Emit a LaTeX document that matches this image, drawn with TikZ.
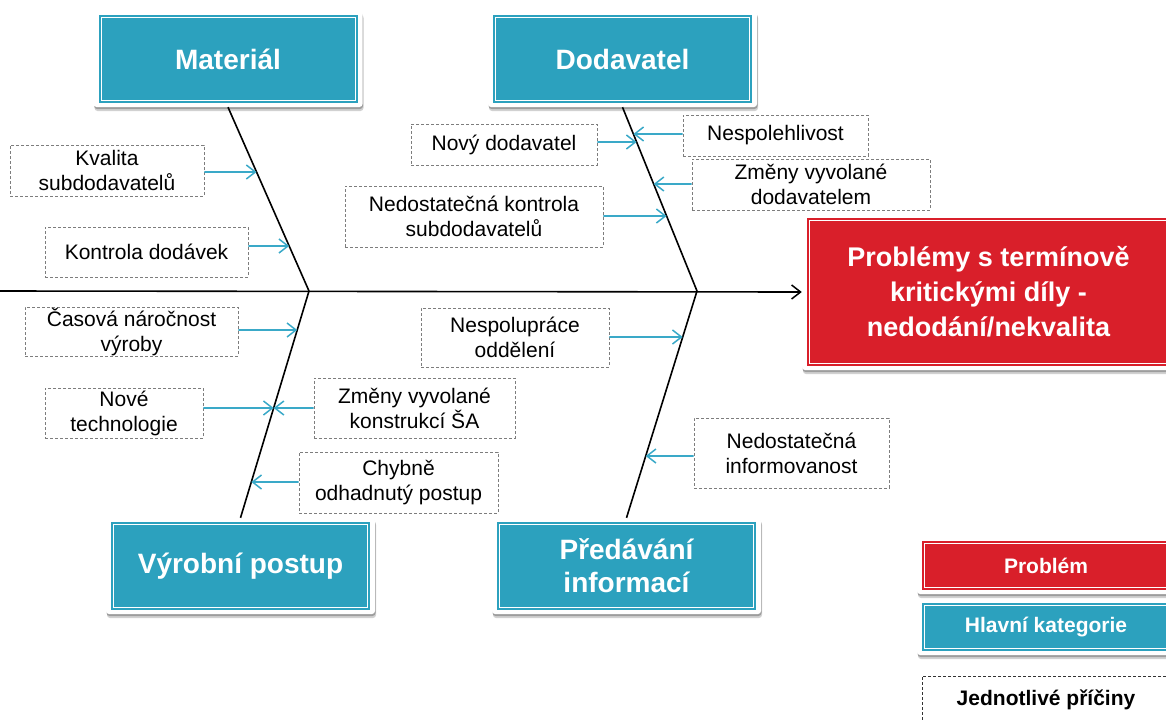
\documentclass[tikz,border=0pt]{standalone}
\usepackage{fontspec}
\setmainfont{Liberation Sans}
\usetikzlibrary{arrows.meta,shadows,intersections,calc}

\definecolor{catTeal}{RGB}{44,161,190}
\definecolor{arrowTeal}{RGB}{58,169,200}
\definecolor{probRed}{RGB}{217,31,42}
\definecolor{dashGray}{RGB}{125,125,125}

\tikzset{
  % white frame with shadow, coloured panel and a thin white inner line
  framed/.style={
    fill=white, rounded corners=3pt, inner sep=0pt, text=white, align=center,
    drop shadow={shadow xshift=1pt, shadow yshift=-4pt, opacity=0.18, fill=black},
    drop shadow={shadow xshift=0.5pt, shadow yshift=-2pt, opacity=0.25, fill=black},
    path picture={
      \fill[#1, sharp corners]
        ([shift={(5pt,4pt)}]path picture bounding box.south west) rectangle
        ([shift={(-5pt,-4pt)}]path picture bounding box.north east);
      \draw[white, line width=0.8pt, sharp corners]
        ([shift={(7.5pt,6.5pt)}]path picture bounding box.south west) rectangle
        ([shift={(-7.5pt,-6.5pt)}]path picture bounding box.north east);
    }},
  catbox/.style={framed=catTeal, minimum width=269pt, minimum height=96pt,
    font=\bfseries\fontsize{28}{33}\selectfont},
  probbox/.style={framed=probRed, minimum width=373pt, minimum height=156pt,
    font=\bfseries\fontsize{27}{35}\selectfont},
  legbox/.style={framed=#1, minimum width=258pt, minimum height=56pt,
    font=\bfseries\fontsize{21}{25}\selectfont},
  causebox/.style={draw=dashGray, dash pattern=on 3pt off 2pt, line width=0.8pt,
    inner sep=0pt, align=center, font=\fontsize{21}{25}\selectfont},
  bone/.style={line width=1.6pt, black},
  spine/.style={line width=1.6pt, black, -{Straight Barb[length=9pt,width=14pt,line width=1.5pt]}},
  causearrow/.style={line width=1.6pt, arrowTeal, -{Straight Barb[length=9pt,width=14pt,line width=1.5pt]}},
}

% horizontal cause arrow from box side #1 at height #2 to bone path #3
\newcommand{\causeto}[3]{%
  \path[name path=hl] (-10,#2) -- (1200,#2);
  \path[name intersections={of=#3 and hl, by=tp}];
  \draw[causearrow] (#1 |- 0,#2) -- (tp);
}

\begin{document}
\begin{tikzpicture}[x=1pt, y=-1pt]
  \useasboundingbox (0,0) rectangle (1166,720);
  \clip (0,0) rectangle (1166,720);

  % main categories
  \node[catbox] (mat) at (228,59)    {Materiál};
  \node[catbox] (dod) at (622.5,59)  {Dodavatel};
  \node[catbox] (vyr) at (240.5,566) {Výrobní postup};
  \node[catbox] (pre) at (626.5,566) {Předávání\\informací};

  % problem
  \node[probbox] (prob) at (988.5,292) {Problémy s termínově\\kritickými díly -\\nedodání/nekvalita};

  % spine and bones
  \coordinate (tail) at (0,291);
  \coordinate (j1) at (309,291);
  \coordinate (j2) at (697,291);
  \draw[spine] (tail) -- (prob.west);
  \draw[bone, name path=boneM] (mat.south) -- (j1);
  \draw[bone, name path=boneV] (j1) -- (vyr.north);
  \draw[bone, name path=boneD] (dod.south) -- (j2);
  \draw[bone, name path=boneP] (j2) -- (pre.north);

  % individual causes
  \node[causebox, minimum width=194pt, minimum height=51pt] (kval)   at (107,170.5)   {Kvalita\\subdodavatelů};
  \node[causebox, minimum width=203pt, minimum height=50pt] (kontr)  at (146.5,252)   {Kontrola dodávek};
  \node[causebox, minimum width=213pt, minimum height=49pt] (cas)    at (131.5,331.5) {Časová náročnost\\výroby};
  \node[causebox, minimum width=158pt, minimum height=50pt] (nove)   at (124,413)     {Nové\\technologie};
  \node[causebox, minimum width=201pt, minimum height=60pt] (zmSA)   at (414.5,408)   {Změny vyvolané\\konstrukcí ŠA};
  \node[causebox, minimum width=199pt, minimum height=61pt] (chyb)   at (398.5,482.5) {Chybně\\odhadnutý postup};
  \node[causebox, minimum width=186pt, minimum height=41pt] (novy)   at (504,144.5)   {Nový dodavatel};
  \node[causebox, minimum width=185pt, minimum height=41pt] (nespol) at (775.5,135.5) {Nespolehlivost};
  \node[causebox, minimum width=238pt, minimum height=51pt] (zmDod)  at (811,184.5)   {Změny vyvolané\\dodavatelem};
  \node[causebox, minimum width=258pt, minimum height=61pt] (nedKon) at (474,216.5)   {Nedostatečná kontrola\\subdodavatelů};
  \node[causebox, minimum width=188pt, minimum height=59pt] (nespo)  at (515,337.5)   {Nespolupráce\\oddělení};
  \node[causebox, minimum width=195pt, minimum height=70pt] (nedInf) at (791.5,453)   {Nedostatečná\\informovanost};

  % cause arrows
  \causeto{kval.east}{172}{boneM}
  \causeto{kontr.east}{246}{boneM}
  \causeto{cas.east}{330}{boneV}
  \causeto{nove.east}{408}{boneV}
  \causeto{zmSA.west}{408}{boneV}
  \causeto{chyb.west}{482}{boneV}
  \causeto{novy.east}{142}{boneD}
  \causeto{nespol.west}{134}{boneD}
  \causeto{zmDod.west}{184}{boneD}
  \causeto{nedKon.east}{216}{boneD}
  \causeto{nespo.east}{337}{boneP}
  \causeto{nedInf.west}{456}{boneP}

  % legend
  \node[legbox=probRed, minimum height=57pt] (lp) at (1046,565.5) {Problém};
  \node[legbox=catTeal] (lk) at (1046,627) {Hlavní kategorie};
  \node[draw=black!80, dash pattern=on 3pt off 2pt, line width=0.8pt,
        minimum width=248pt, minimum height=48pt, inner sep=0pt,
        font=\bfseries\fontsize{21}{25}\selectfont] (lc) at (1046,700) {Jednotlivé příčiny};
\end{tikzpicture}
\end{document}
